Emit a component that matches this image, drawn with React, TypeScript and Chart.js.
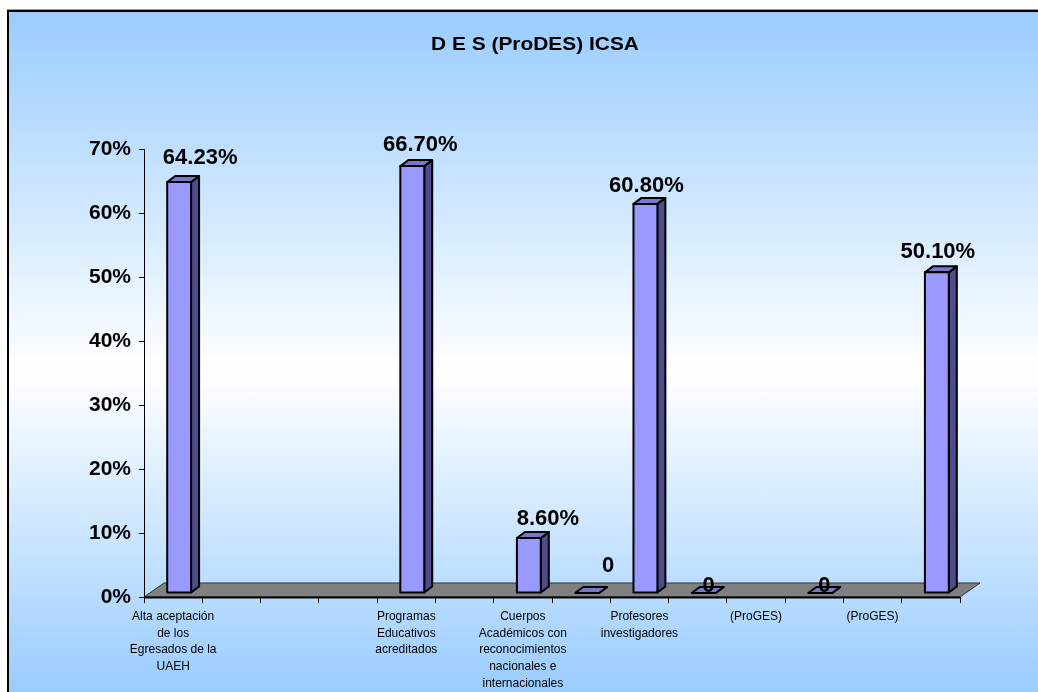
import React, { useEffect, useRef } from "react";
import { Chart, registerables } from "chart.js";

Chart.register(...registerables);

const title = "D E S (ProDES) ICSA";

const categories: (string | string[])[] = [
  ["Alta aceptación", "de los", "Egresados de la", "UAEH"],
  "",
  "",
  "",
  ["Programas", "Educativos", "acreditados"],
  "",
  ["Cuerpos", "Académicos con", "reconocimientos", "nacionales e", "internacionales"],
  "",
  ["Profesores", "investigadores"],
  "",
  "(ProGES)",
  "",
  "(ProGES)",
  "",
];

const values: (number | null)[] = [64.23, null, null, null, 66.7, null, 8.6, 0, 60.8, 0, null, 0, null, 50.1];

const yMin = 0;
const yMax = 70;
const yStep = 10;

const FONT = "Arial, 'Liberation Sans', sans-serif";

// 3D geometry (pixels)
const FLOOR_DX = 20;
const FLOOR_DY = -14;
const BAR_SHIFT_X = 6;
const BAR_SHIFT_Y = -4;
const BAR_DX = 8;
const BAR_DY = -6;

// label nudges per category index [dx, dy] relative to bar front top centre
const labelNudge: Record<number, [number, number]> = {
  0: [21, -24],
  4: [8, -21],
  6: [19, -19],
  7: [21, -27],
  8: [1, -18],
  9: [5, -7],
  11: [4, -7],
  13: [1, -20],
};

const threeD = {
  id: "threeD",
  beforeDatasetsDraw(chart: any) {
    const { ctx, chartArea } = chart;
    const x0 = chartArea.left;
    const x1 = chartArea.right;
    const yb = chart.scales.y.getPixelForValue(0);
    ctx.save();
    ctx.beginPath();
    ctx.moveTo(x0, yb);
    ctx.lineTo(x0 + FLOOR_DX, yb + FLOOR_DY);
    ctx.lineTo(x1 + FLOOR_DX, yb + FLOOR_DY);
    ctx.lineTo(x1, yb);
    ctx.closePath();
    ctx.fillStyle = "#808080";
    ctx.fill();
    ctx.lineWidth = 1;
    ctx.strokeStyle = "#333333";
    ctx.stroke();
    ctx.beginPath();
    ctx.moveTo(x0, yb + 0.5);
    ctx.lineTo(x1, yb + 0.5);
    ctx.lineWidth = 2;
    ctx.strokeStyle = "#000";
    ctx.stroke();
    ctx.restore();
  },
  afterDatasetsDraw(chart: any) {
    const { ctx } = chart;
    const meta = chart.getDatasetMeta(0);
    ctx.save();
    ctx.lineWidth = 2;
    ctx.lineJoin = "round";
    ctx.strokeStyle = "#000";
    meta.data.forEach((el: any, i: number) => {
      const v = values[i];
      if (v === null || v === undefined) return;
      const p = el.getProps(["x", "y", "base", "width"], true);
      const l = p.x - p.width / 2 + BAR_SHIFT_X;
      const r = p.x + p.width / 2 + BAR_SHIFT_X;
      const t = p.y + BAR_SHIFT_Y;
      const b = p.base + BAR_SHIFT_Y;
      // side
      ctx.beginPath();
      ctx.moveTo(r, t);
      ctx.lineTo(r + BAR_DX, t + BAR_DY);
      ctx.lineTo(r + BAR_DX, b + BAR_DY);
      ctx.lineTo(r, b);
      ctx.closePath();
      ctx.fillStyle = "#4D4D8C";
      ctx.fill();
      ctx.stroke();
      // top
      ctx.beginPath();
      ctx.moveTo(l, t);
      ctx.lineTo(l + BAR_DX, t + BAR_DY);
      ctx.lineTo(r + BAR_DX, t + BAR_DY);
      ctx.lineTo(r, t);
      ctx.closePath();
      ctx.fillStyle = "#7777CC";
      ctx.fill();
      ctx.stroke();
      // front
      if (b - t > 0.5) {
        ctx.beginPath();
        ctx.rect(l, t, r - l, b - t);
        ctx.fillStyle = "#9999FF";
        ctx.fill();
        ctx.stroke();
      }
    });
    // data labels
    ctx.fillStyle = "#000";
    ctx.font = `bold 22px ${FONT}`;
    ctx.textAlign = "center";
    ctx.textBaseline = "middle";
    meta.data.forEach((el: any, i: number) => {
      const v = values[i];
      if (v === null || v === undefined) return;
      const p = el.getProps(["x", "y"], true);
      const n = labelNudge[i] || [1, -20];
      const txt = v === 0 ? "0" : v.toFixed(2) + "%";
      ctx.fillText(txt, p.x + BAR_SHIFT_X + n[0], p.y + BAR_SHIFT_Y + n[1]);
    });
    ctx.restore();
  },
  afterDraw(chart: any) {
    const { ctx } = chart;
    ctx.save();
    ctx.fillStyle = "#000";
    ctx.font = `bold 19px ${FONT}`;
    ctx.textAlign = "center";
    ctx.textBaseline = "middle";
    ctx.translate(535, 45);
    ctx.scale(1.1, 1);
    ctx.fillText(title, 0, 0);
    ctx.restore();
  },
};

export default function App() {
  const ref = useRef<HTMLCanvasElement | null>(null);
  useEffect(() => {
    if (!ref.current) return;
    const chart = new Chart(ref.current, {
      type: "bar",
      data: {
        labels: categories,
        datasets: [
          {
            data: values,
            backgroundColor: "rgba(0,0,0,0)",
            borderWidth: 0,
            barPercentage: 0.41,
            categoryPercentage: 1,
          },
        ],
      },
      options: {
        responsive: false,
        animation: false,
        events: [],
        layout: { padding: { left: 0, right: 78, top: 149, bottom: 0 } },
        plugins: {
          legend: { display: false },
          tooltip: { enabled: false },
          title: { display: false },
        },
        scales: {
          x: {
            offset: true,
            grid: {
              offset: true,
              drawOnChartArea: false,
              tickLength: 6,
              color: "#000",
              lineWidth: 1,
            },
            border: { display: false },
            ticks: {
              autoSkip: false,
              maxRotation: 0,
              minRotation: 0,
              color: "#000",
              padding: 5,
              font: { family: FONT, size: 12, lineHeight: 1.4 },
            },
            afterFit: (s: any) => {
              s.height = 95;
            },
          },
          y: {
            min: yMin,
            max: yMax,
            ticks: {
              stepSize: yStep,
              color: "#000",
              padding: 8,
              font: { family: FONT, size: 21, weight: "bold" },
              callback: (v: any) => v + "%",
            },
            grid: { drawOnChartArea: false, tickLength: 5, color: "#000" },
            border: { color: "#000", width: 1 },
            afterFit: (s: any) => {
              s.width = 144;
            },
          },
        },
      },
      plugins: [threeD],
    });
    return () => chart.destroy();
  }, []);

  return (
    <div style={{ position: "absolute", left: 0, top: 0, width: 1038, height: 692, background: "#fff", overflow: "hidden" }}>
      <div
        style={{
          position: "absolute",
          left: 7,
          top: 9,
          width: 1031,
          height: 683,
          boxSizing: "border-box",
          borderTop: "1px solid #a0a0a0",
        }}
      >
        <div
          style={{
            position: "absolute",
            left: 0,
            top: 0,
            right: 0,
            bottom: 0,
            borderLeft: "2px solid #000",
            borderTop: "2px solid #000",
            background: "linear-gradient(to bottom, #99CCFF 0%, #FFFFFF 53%, #99CCFF 100%)",
          }}
        />
      </div>
      <canvas ref={ref} width={1038} height={692} style={{ position: "absolute", left: 0, top: 0, display: "block" }} />
    </div>
  );
}
